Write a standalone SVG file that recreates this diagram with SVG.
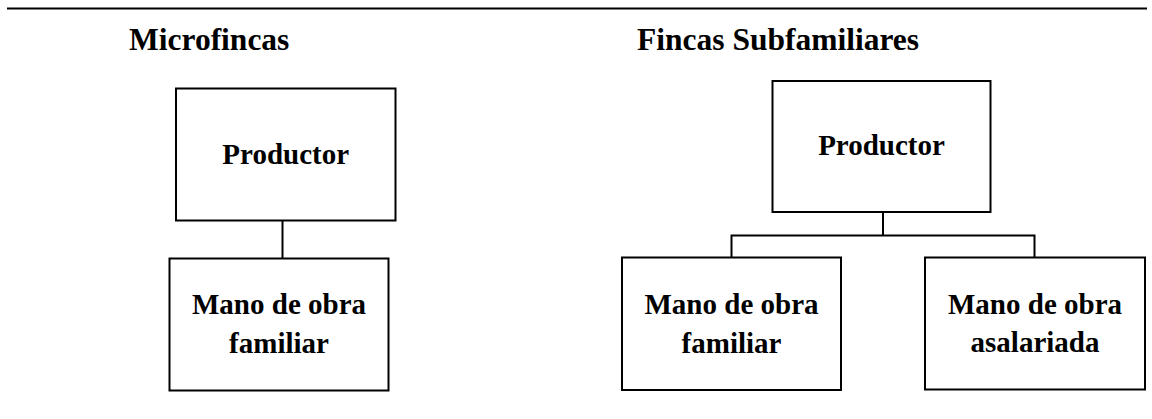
<svg xmlns="http://www.w3.org/2000/svg" width="1152" height="419" viewBox="0 0 1152 419">
<style>
.box{fill:#fff;stroke:#000;stroke-width:2}
.conn{fill:none;stroke:#000;stroke-width:2}
.t{font-family:"Liberation Serif","Times New Roman",serif;font-weight:bold;fill:#000;text-anchor:middle}
.title{font-size:31.5px;text-anchor:start}
.lbl{font-size:29px}
</style>
<rect width="1152" height="419" fill="#fff"/>
<line x1="7" y1="8.5" x2="1147" y2="8.5" stroke="#000" stroke-width="2"/>
<text class="t title" x="129" y="50">Microfincas</text>
<text class="t title" x="637" y="50">Fincas Subfamiliares</text>
<g id="connectors">
<line class="conn" x1="282.5" y1="220.5" x2="282.5" y2="258.5"/>
<polyline class="conn" points="883,212 883,235.5"/>
<polyline class="conn" points="731.5,257.5 731.5,235.5 1034.5,235.5 1034.5,257.5"/>
</g>
<g id="m-productor">
<rect class="box" x="176" y="88.5" width="219.5" height="132"/>
<text class="t lbl" x="285.7" y="164">Productor</text>
</g>
<g id="m-familiar">
<rect class="box" x="169.5" y="258.5" width="219" height="132"/>
<text class="t lbl" x="279" y="313.5">Mano de obra</text>
<text class="t lbl" x="279" y="352.5">familiar</text>
</g>
<g id="s-productor">
<rect class="box" x="772.5" y="81" width="218" height="131"/>
<text class="t lbl" x="881.5" y="155">Productor</text>
</g>
<g id="s-familiar">
<rect class="box" x="622" y="257.5" width="219" height="132.5"/>
<text class="t lbl" x="731.5" y="313.5">Mano de obra</text>
<text class="t lbl" x="731.5" y="352.5">familiar</text>
</g>
<g id="s-asalariada">
<rect class="box" x="925" y="257.5" width="220" height="132"/>
<text class="t lbl" x="1035" y="313.5">Mano de obra</text>
<text class="t lbl" x="1035" y="352">asalariada</text>
</g>
</svg>
